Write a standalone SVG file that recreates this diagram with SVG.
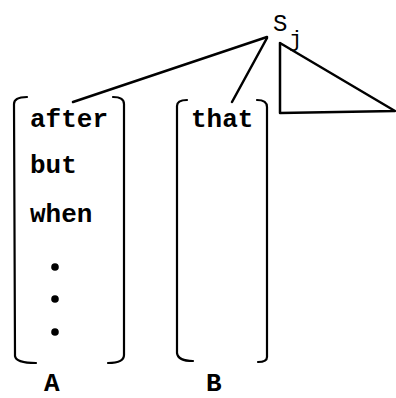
<svg xmlns="http://www.w3.org/2000/svg" width="396" height="398" viewBox="0 0 396 398">
<style>
.t{font-family:"Liberation Mono","Courier New",monospace;font-weight:bold;font-size:26px;fill:#000}
.s{font-family:"Liberation Mono","Courier New",monospace;font-size:24px;fill:#000}
.ln{stroke:#000;stroke-width:2.5;fill:none;stroke-linecap:round;stroke-linejoin:round}
.br{stroke:#000;stroke-width:2.2;fill:none;stroke-linecap:round}
</style>
<rect width="396" height="398" fill="#fff"/>
<g id="S">
<text class="s" x="273" y="31">S</text>
<text class="s" x="289" y="46" style="font-size:22px">j</text>
<path class="ln" d="M280,43 L280,113 L395,111 Z"/>
</g>
<g id="connectors">
<line class="ln" x1="267" y1="37" x2="73" y2="102"/>
<line class="ln" x1="267" y1="38" x2="232" y2="102"/>
</g>
<g id="A">
<path class="br" d="M27,97 Q14,97 14,104 L15,356 Q16,363 36,363"/>
<path class="br" d="M113,97 Q124,97 124,104 L124,355 Q124,363 108,363"/>
<text class="t" x="30" y="127">after</text>
<text class="t" x="30" y="173">but</text>
<text class="t" x="30" y="222">when</text>
<circle cx="55" cy="267" r="3.8"/>
<circle cx="55" cy="299" r="3.8"/>
<circle cx="55" cy="332" r="3.8"/>
<text class="t" x="44" y="391">A</text>
</g>
<g id="B">
<path class="br" d="M187,100 Q177,100 177,106 L177,353 Q178,361 193,361"/>
<path class="br" d="M257,100 Q267,100 267,107 L267,357 Q267,362 258,362"/>
<text class="t" x="191" y="127">that</text>
<text class="t" x="206" y="391">B</text>
</g>
</svg>
